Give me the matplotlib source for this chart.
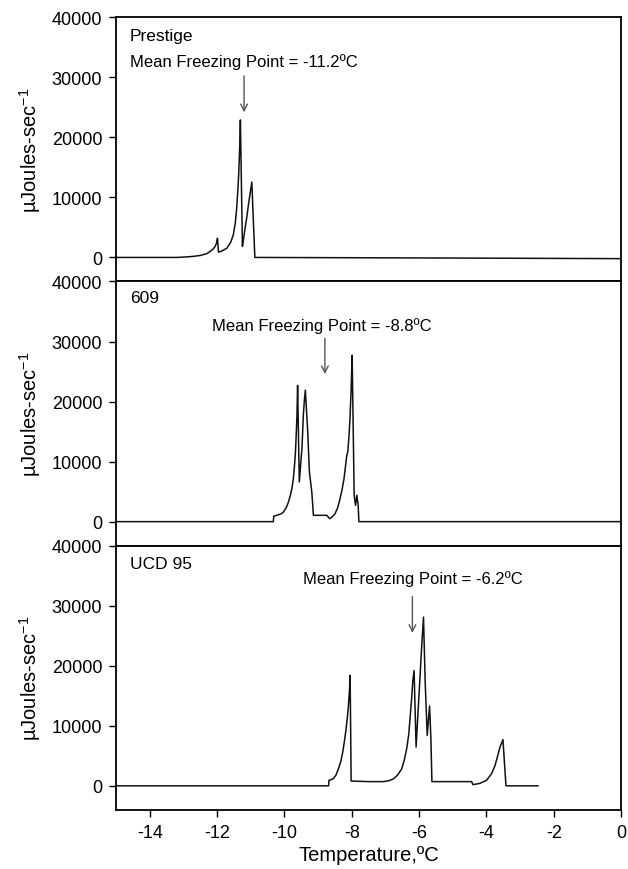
import matplotlib.pyplot as plt

plt.rcParams['font.family'] = ['Liberation Sans', 'DejaVu Sans']
plt.rcParams['mathtext.default'] = 'regular'
plt.rcParams['axes.unicode_minus'] = False

# heat flow traces (temperature degC, uJ/s)
prestige_t = [-15, -13.2, -13.0, -12.75, -12.5, -12.3, -12.21, -12.12, -12.06, -12.02, -11.99,
              -11.96, -11.85, -11.71, -11.6, -11.52, -11.46, -11.42, -11.39, -11.36, -11.33,
              -11.31, -11.25, -11.21, -11.17, -11.12, -11.07, -11.02, -10.97, -10.92,
              -10.88, -10.8, -5, 0]
prestige_q = [0, 0, 60, 150, 330, 650, 1000, 1400, 1830, 2400, 3200,
              880, 1100, 1550, 2500, 3770, 5800, 8200, 10800, 13800, 18500,
              22900, 1830, 3300, 4900, 6700, 8800, 10700, 12550, 5400,
              0, 0, -100, -200]

c609_t = [-15, -10.33, -10.32, -10.23, -10.1, -10.03, -9.95, -9.88, -9.82, -9.78, -9.74,
          -9.71, -9.68, -9.66, -9.63, -9.61, -9.56, -9.52, -9.48, -9.44, -9.41, -9.38,
          -9.31, -9.26, -9.19, -9.14, -8.74, -8.66, -8.58, -8.50, -8.42, -8.35, -8.29,
          -8.23, -8.15, -8.12, -8.08, -8.05, -8.02, -7.99, -7.93, -7.89, -7.85, -7.81,
          -7.79, -7.5, 0]
c609_q = [0, 0, 900, 1050, 1300, 1600, 2300, 3300, 4500, 5500, 7000,
          8800, 11000, 13300, 17500, 22700, 6600, 9500, 12200, 17700, 20200, 21900,
          15000, 8300, 5000, 1050, 1050, 500, 800, 1300, 2300, 3800, 5300,
          7200, 11000, 11600, 14500, 17700, 22000, 27700, 4400, 2700, 4400, 2700,
          0, 0, 0]

ucd95_t = [-15, -8.69, -8.68, -8.55, -8.47, -8.40, -8.33, -8.27, -8.22, -8.17, -8.13, -8.10,
           -8.07, -8.05, -8.02, -7.5, -7.06, -6.9, -6.76, -6.64, -6.52, -6.44, -6.37, -6.31,
           -6.27, -6.23, -6.19, -6.15, -6.09, -6.05, -6.01, -5.97, -5.94, -5.87, -5.82,
           -5.76, -5.69, -5.65, -5.62, -4.44, -4.40, -4.2, -4.0, -3.85, -3.75, -3.69,
           -3.6, -3.51, -3.42, -2.47]
ucd95_q = [0, 0, 900, 1170, 1800, 2800, 4000, 5600, 7400, 9500, 11500, 13400,
           15800, 18400, 800, 700, 700, 850, 1170, 1800, 2800, 4300, 6200, 8500,
           11200, 14000, 17300, 19200, 6450, 10500, 14500, 18500, 21700, 28100, 17300,
           8400, 13300, 7800, 700, 700, 200, 400, 900, 2000, 3300, 4500,
           6400, 7700, 0, 0]

panels = [
    ('Prestige', prestige_t, prestige_q, -11.2, 'Mean Freezing Point = -11.2ºC',
     -11.2, 32700, 30700, 23700, 37000),
    ('609', c609_t, c609_q, -8.8, 'Mean Freezing Point = -8.8ºC',
     -8.9, 32800, 31000, 24100, 37300),
    ('UCD 95', ucd95_t, ucd95_q, -6.2, 'Mean Freezing Point = -6.2ºC',
     -6.2, 34600, 32000, 25000, 37000),
]

fig, axes = plt.subplots(3, 1, sharex=True, figsize=(6.28, 8.70), dpi=100)
fig.subplots_adjust(left=0.185, right=0.989, top=0.979, bottom=0.068, hspace=0)

for ax, (name, t, q, mfp, label, tx, ty, ay0, ay1, ny) in zip(axes, panels):
    ax.plot(t, q, color='#111111', lw=1.1)
    ax.set_xlim(-15, 0)
    ax.set_ylim(-4000, 40000)
    ax.set_yticks([0, 10000, 20000, 30000, 40000])
    ax.text(-14.6, ny, name, fontsize=12.5, va='center', ha='left')
    ax.text(tx, ty, label, fontsize=12, va='center', ha='center')
    ax.annotate('', xy=(mfp, ay1), xytext=(mfp, ay0),
                arrowprops=dict(arrowstyle='->', color='#555555', lw=1, mutation_scale=12))
    ax.set_ylabel('µJoules-sec$^{-1}$', fontsize=14.5)
    ax.yaxis.set_label_coords(-0.145, 0.5)
    ax.tick_params(axis='y', direction='out', length=5, width=1, labelsize=13, pad=5)
    ax.tick_params(axis='x', direction='out', length=5, width=1, labelsize=13, pad=5)
    for s in ax.spines.values():
        s.set_linewidth(1.3)

for ax in axes[:2]:
    ax.tick_params(axis='x', bottom=False, labelbottom=False)

axes[2].set_xticks([-14, -12, -10, -8, -6, -4, -2, 0])
axes[2].set_xlabel('Temperature,ºC', fontsize=14.5, labelpad=3)

fig.savefig('out.png', dpi=100)
